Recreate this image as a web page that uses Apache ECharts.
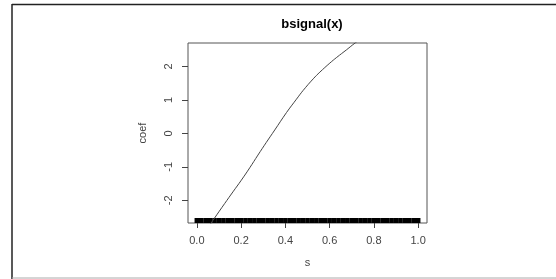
<!DOCTYPE html>
<html>
<head>
<meta charset="utf-8">
<script src="https://cdn.jsdelivr.net/npm/echarts@6/dist/echarts.min.js"></script>
<style>
  html, body { margin: 0; padding: 0; background: #fff; }
  #chart { width: 556px; height: 279px; }
</style>
</head>
<body>
<div id="chart"></div>
<script>
// curve (s, coef)
const sVals    = [0.05, 0.077, 0.1255, 0.163, 0.201, 0.239, 0.276, 0.314, 0.352, 0.405, 0.45, 0.48, 0.526, 0.556, 0.601, 0.632, 0.677, 0.715, 0.74];
const coefVals = [-2.82, -2.56, -2.10, -1.75, -1.40, -1.03, -0.65, -0.27, 0.10, 0.62, 1.02, 1.28, 1.63, 1.83, 2.10, 2.27, 2.50, 2.70, 2.81];
// rug positions along s
const rugVals = [0, 0.02, 0.04, 0.06, 0.08, 0.1, 0.12, 0.14, 0.16, 0.18, 0.2, 0.22, 0.24, 0.26, 0.28, 0.3,
  0.32, 0.34, 0.36, 0.38, 0.4, 0.42, 0.44, 0.46, 0.48, 0.5, 0.52, 0.54, 0.56, 0.58, 0.6, 0.62, 0.64,
  0.66, 0.68, 0.7, 0.72, 0.74, 0.76, 0.78, 0.8, 0.82, 0.84, 0.86, 0.88, 0.9, 0.92, 0.94, 0.96, 0.98, 1.0];
const xTicks = [0, 0.2, 0.4, 0.6, 0.8, 1.0];
const yTicks = [-2, -1, 0, 1, 2];

window.onload = () => {
    let chart = echarts.init(document.getElementById('chart'));
    const font = 'Liberation Sans, Arial, sans-serif';
    const yMin = -2.68;

    let option = {
        animation: false,
        title: {
            text: 'bsignal(x)',
            left: 307, top: 13, textAlign: 'center',
            textStyle: { fontFamily: font, fontSize: 13, fontWeight: 'bold', color: '#000' }
        },
        graphic: [
            { type: 'line', shape: { x1: 12, y1: 4.5, x2: 556, y2: 4.5 }, style: { stroke: '#222', lineWidth: 1.5 } },
            { type: 'line', shape: { x1: 12, y1: 4, x2: 12, y2: 279 }, style: { stroke: '#222', lineWidth: 1.5 } },
            { type: 'line', shape: { x1: 12, y1: 278, x2: 556, y2: 278 }, style: { stroke: '#aaa', lineWidth: 1 } }
        ],
        grid: {
            left: 188, top: 43, right: 129, bottom: 56,
            show: true, borderColor: '#555', borderWidth: 1
        },
        xAxis: {
            type: 'value', min: -0.04, max: 1.04,
            name: 's', nameLocation: 'middle', nameGap: 34,
            nameTextStyle: { fontFamily: font, fontSize: 11, color: '#444' },
            axisLine: { show: false, onZero: false },
            splitLine: { show: false },
            axisTick: { show: true, customValues: xTicks, length: 5, lineStyle: { color: '#444' } },
            axisLabel: {
                customValues: xTicks, margin: 12,
                fontFamily: font, fontSize: 11, color: '#444',
                formatter: v => v.toFixed(1)
            }
        },
        yAxis: {
            type: 'value', min: yMin, max: 2.70,
            name: 'coef', nameLocation: 'middle', nameGap: 40, nameRotate: 90,
            nameTextStyle: { fontFamily: font, fontSize: 11, color: '#444' },
            axisLine: { show: false, onZero: false },
            splitLine: { show: false },
            axisTick: { show: true, customValues: yTicks, length: 6, lineStyle: { color: '#444' } },
            axisLabel: {
                customValues: yTicks, rotate: 90, margin: 14,
                fontFamily: font, fontSize: 11, color: '#444'
            }
        },
        series: [
            {
                type: 'line',
                data: sVals.map((s, i) => [s, coefVals[i]]),
                showSymbol: false, smooth: 0.4, clip: true,
                lineStyle: { color: '#444', width: 1 }
            },
            {
                type: 'custom',
                data: rugVals.map(s => [s]),
                renderItem: (params, api) => {
                    const p = api.coord([api.value(0), yMin]);
                    return {
                        type: 'line',
                        shape: { x1: p[0], y1: p[1], x2: p[0], y2: p[1] - 5 },
                        style: { stroke: '#000', lineWidth: 4.6 }
                    };
                },
                clip: false
            }
        ]
    };
    chart.setOption(option);
};
</script>
</body>
</html>
